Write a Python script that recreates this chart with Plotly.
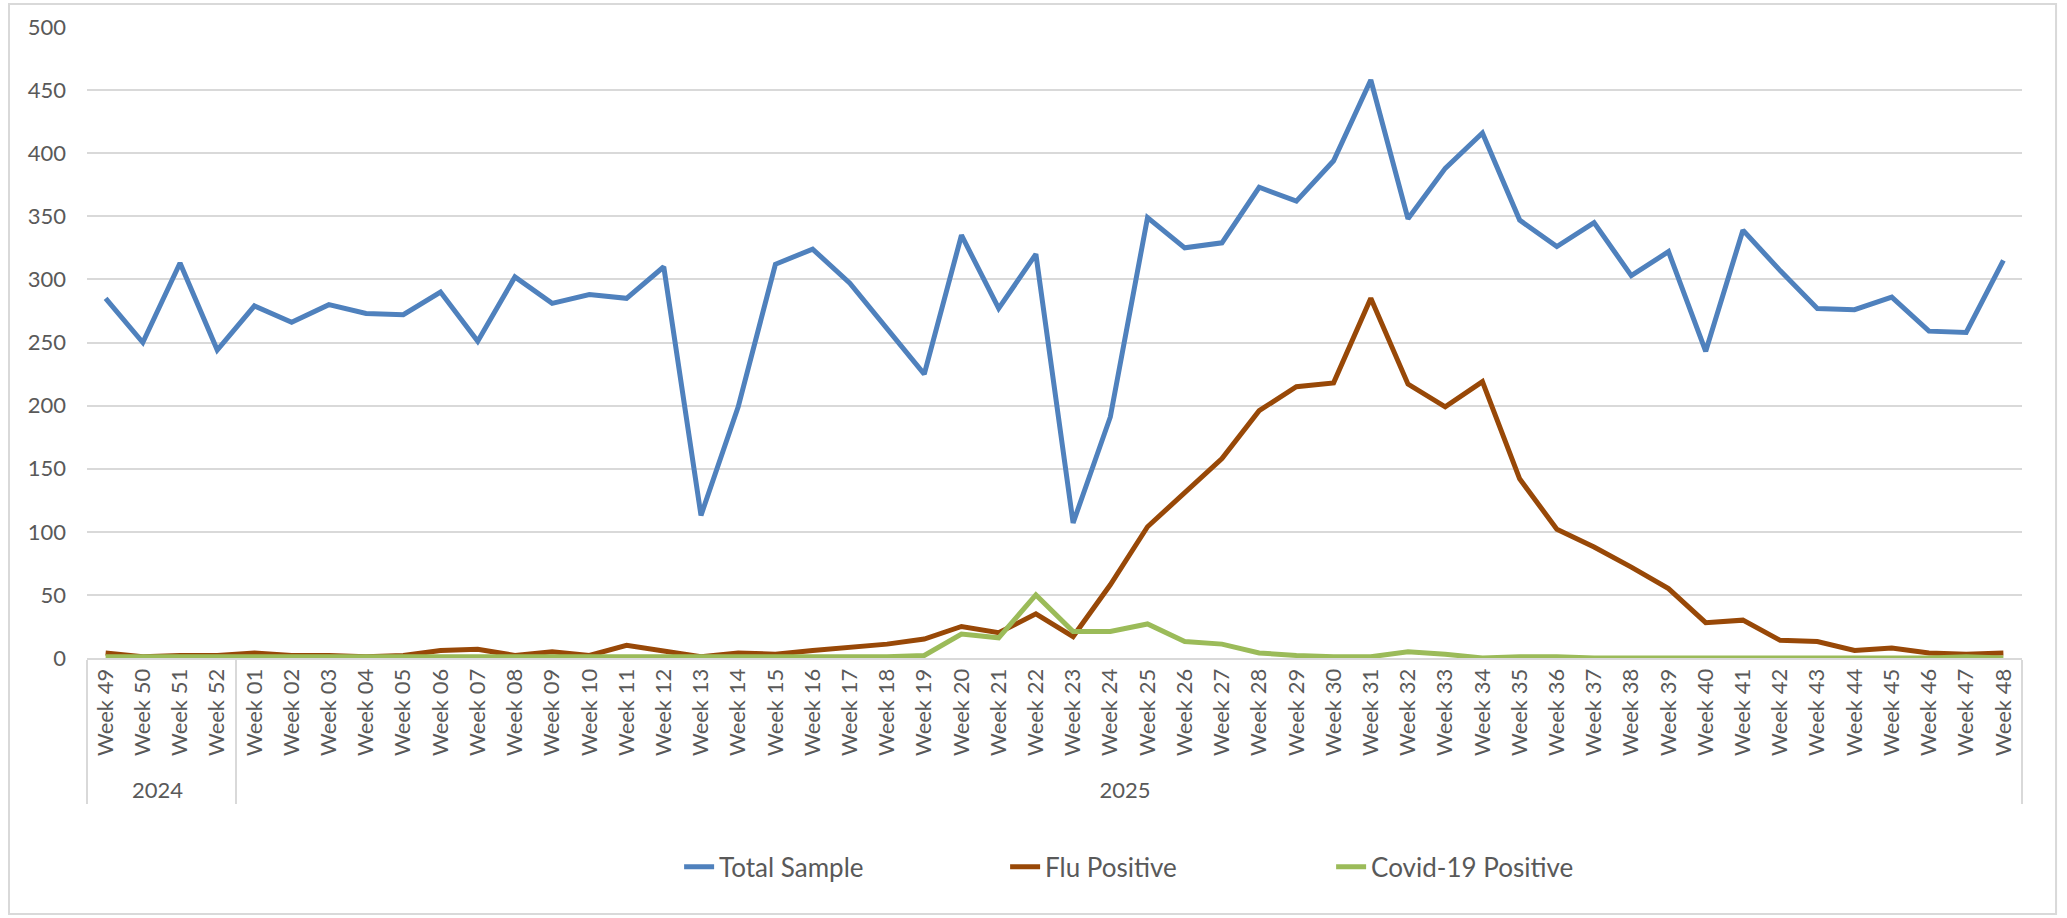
import plotly.graph_objects as go

# category axis: year group + week label
years = ["2024"] * 4 + ["2025"] * 48
weeks = ["Week 49", "Week 50", "Week 51", "Week 52"] + ["Week %02d" % i for i in range(1, 49)]

total_sample = [285, 250, 313, 244, 279, 266, 280, 273, 272, 290, 251, 302, 281, 288, 285, 310,
                113, 199, 312, 324, 297, 261, 225, 335, 277, 320, 107, 191, 349, 325, 329, 373,
                362, 394, 458, 348, 388, 416, 347, 326, 345, 303, 322, 243, 339, 307, 277, 276,
                286, 259, 258, 315]
flu_positive = [4, 1, 2, 2, 4, 2, 2, 1, 2, 6, 7, 2, 5, 2, 10, 5,
                1, 4, 3, 6, 8, 11, 15, 25, 20, 35, 17, 58, 104, 131, 158, 196,
                215, 218, 285, 217, 199, 219, 142, 102, 88, 72, 55, 28, 30, 14, 13, 6,
                8, 4, 3, 4]
covid_positive = [1, 1, 1, 1, 1, 1, 1, 1, 1, 1, 1, 1, 1, 1, 1, 1,
                  1, 1, 1, 1, 1, 1, 2, 19, 16, 50, 21, 21, 27, 13, 11, 4,
                  2, 1, 1, 5, 3, 0, 1, 1, 0, 0, 0, 0, 0, 0, 0, 0,
                  0, 0, 1, 0]

font_name = "Lato"
grey_text = "#595959"
grid_grey = "#D9D9D9"

fig = go.Figure()
fig.add_trace(go.Scatter(x=[years, weeks], y=total_sample, mode="lines", name="Total Sample",
                         line=dict(color="#4F81BD", width=5)))
fig.add_trace(go.Scatter(x=[years, weeks], y=flu_positive, mode="lines", name="Flu Positive",
                         line=dict(color="#984807", width=5)))
fig.add_trace(go.Scatter(x=[years, weeks], y=covid_positive, mode="lines", name="Covid-19 Positive",
                         line=dict(color="#9BBB59", width=5)))

fig.update_layout(
    width=2067, height=918,
    margin=dict(l=87, r=45, t=27, b=260),
    paper_bgcolor="white", plot_bgcolor="white",
    font=dict(family=font_name, color=grey_text, size=22),
    showlegend=True,
    legend=dict(orientation="h", x=0.306, xanchor="left", y=-0.331, yanchor="middle",
                entrywidth=281, entrywidthmode="pixels", font=dict(size=26)),
)
fig.update_xaxes(
    range=[-0.5, len(weeks) - 0.5],
    showgrid=False, showline=True, linecolor=grid_grey, linewidth=2,
    tickangle=-90, tickfont=dict(size=22, color=grey_text),
    showdividers=True, dividercolor=grid_grey, dividerwidth=2, ticks="",
)
fig.update_yaxes(
    range=[0, 500], dtick=50, showgrid=True, gridcolor=grid_grey, gridwidth=1.5,
    zeroline=False, showline=False, tickfont=dict(size=22, color=grey_text),
    ticklabelstandoff=20,
)

# chart area border
fig.add_shape(type="rect", xref="paper", yref="paper", x0=-0.0403, x1=1.0176, y0=-0.4057, y1=1.0365,
              line=dict(color=grid_grey, width=2), fillcolor="rgba(0,0,0,0)", layer="below")

fig.write_html("out.html", config={"displayModeBar": False},
               post_script="document.body.style.margin='0';")
